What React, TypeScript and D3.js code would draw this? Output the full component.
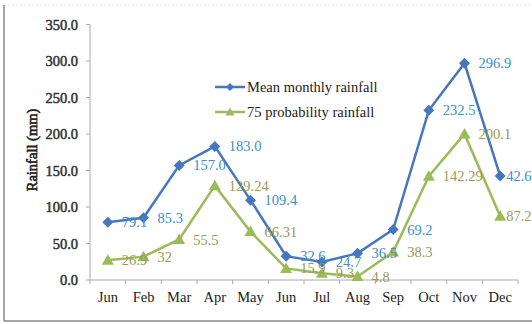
import React from "react";
import * as d3 from "d3";

const months = ["Jun", "Feb", "Mar", "Apr", "May", "Jun", "Jul", "Aug", "Sep", "Oct", "Nov", "Dec"];
const meanRain = [79.1, 85.3, 157.0, 183.0, 109.4, 32.6, 24.7, 36.5, 69.2, 232.5, 296.9, 142.6];
const meanLabels = ["79.1", "85.3", "157.0", "183.0", "109.4", "32.6", "24.7", "36.5", "69.2", "232.5", "296.9", "42.6"];
const probRain = [26.9, 32, 55.5, 129.24, 66.31, 15.9, 9.3, 4.8, 38.3, 142.29, 200.1, 87.2];
const probLabels = ["26.9", "32", "55.5", "129.24", "66.31", "15.9", "9.3", "4.8", "38.3", "142.29", "200.1", "87.2"];
const yTicks = [0, 50, 100, 150, 200, 250, 300, 350];
const seriesNames = ["Mean monthly rainfall", "75 probability rainfall"];

const W = 532, H = 324;
const left = 90, right = 518, top = 24.5, bottom = 280;

const BLUE = "#4677be";
const BLUE_TXT = "#3b8fcc";
const GREEN = "#9bbb59";
const GREEN_TXT = "#9a9a55";
const SERIF = "'Liberation Serif', 'Times New Roman', serif";

export default function App() {
  const x = d3.scaleBand<number>().domain(d3.range(months.length)).range([left, right]);
  const y = d3.scaleLinear().domain([0, 350]).range([bottom, top]);
  const cx = (i: number) => (x(i) as number) + x.bandwidth() / 2;
  const line = d3.line<number>().x((_, i) => cx(i)).y((d) => y(d));

  const diamond = (px: number, py: number, r = 5.5) =>
    `M${px},${py - r}L${px + r},${py}L${px},${py + r}L${px - r},${py}Z`;
  const triangle = (px: number, py: number, s = 6) =>
    `M${px},${py - s}L${px + s},${py + s * 0.75}L${px - s},${py + s * 0.75}Z`;

  const boundaries = d3.range(months.length + 1).map((i) => left + i * x.step());

  return (
    <svg width={W} height={H} style={{ position: "absolute", left: 0, top: 0, background: "#fff" }}>
      {/* frame */}
      <line x1={4} y1={5} x2={W} y2={5} stroke="#ddd" strokeDasharray="2,2" />
      <line x1={4} y1={5} x2={4} y2={321} stroke="#888" strokeWidth={1.5} />
      <line x1={4} y1={321} x2={W} y2={321} stroke="#888" strokeWidth={1.5} />

      {/* y axis */}
      <line x1={left} y1={y(350)} x2={left} y2={bottom} stroke="#aaa" />
      {yTicks.map((t) => (
        <g key={t}>
          <line x1={left - 4} x2={left} y1={y(t)} y2={y(t)} stroke="#aaa" />
          <text x={78} y={y(t)} dy="0.35em" textAnchor="end" fontFamily={SERIF}
            fontSize={14.5} fill="#333" stroke="#333" strokeWidth={0.5}>{t.toFixed(1)}</text>
        </g>
      ))}
      <text transform={`translate(32,150) rotate(-90)`} textAnchor="middle" dy="0.35em" fontFamily={SERIF}
        fontSize={14.5} fill="#222" stroke="#222" strokeWidth={0.6}>Rainfall (mm)</text>

      {/* x axis */}
      <line x1={left} y1={bottom} x2={right} y2={bottom} stroke="#aaa" />
      {boundaries.map((b, i) => (
        <line key={i} x1={b} x2={b} y1={bottom} y2={bottom + 4} stroke="#aaa" />
      ))}
      {months.map((m, i) => (
        <text key={i} x={cx(i)} y={302} textAnchor="middle" fontFamily={SERIF} fontSize={14.5}
          fill="#222">{m}</text>
      ))}

      {/* series */}
      <path d={line(probRain) || ""} fill="none" stroke={GREEN} strokeWidth={2.5} />
      <path d={line(meanRain) || ""} fill="none" stroke={BLUE} strokeWidth={2.5} />
      {probRain.map((v, i) => (
        <path key={"pt" + i} d={triangle(cx(i), y(v))} fill={GREEN} />
      ))}
      {meanRain.map((v, i) => (
        <path key={"md" + i} d={diamond(cx(i), y(v))} fill={BLUE} />
      ))}
      {probRain.map((v, i) => (
        <text key={"pl" + i} x={cx(i) + (i === months.length - 1 ? 6 : 14)} y={y(v)} dy="0.35em"
          fontFamily={SERIF} fontSize={14.5} fill={GREEN_TXT}>{probLabels[i]}</text>
      ))}
      {meanRain.map((v, i) => (
        <text key={"ml" + i} x={cx(i) + (i === months.length - 1 ? 6 : 14)} y={y(v)} dy="0.35em"
          fontFamily={SERIF} fontSize={14.5} fill={BLUE_TXT}>{meanLabels[i]}</text>
      ))}

      {/* legend */}
      <line x1={215} x2={245} y1={87} y2={87} stroke={BLUE} strokeWidth={2.5} />
      <path d={diamond(230, 87, 4)} fill={BLUE} />
      <text x={247} y={87} dy="0.35em" fontFamily={SERIF} fontSize={14.5} fill="#222">{seriesNames[0]}</text>
      <line x1={215} x2={245} y1={112} y2={112} stroke={GREEN} strokeWidth={2.5} />
      <path d={triangle(230, 112, 4.5)} fill={GREEN} />
      <text x={247} y={112} dy="0.35em" fontFamily={SERIF} fontSize={14.5} fill="#222">{seriesNames[1]}</text>
    </svg>
  );
}
